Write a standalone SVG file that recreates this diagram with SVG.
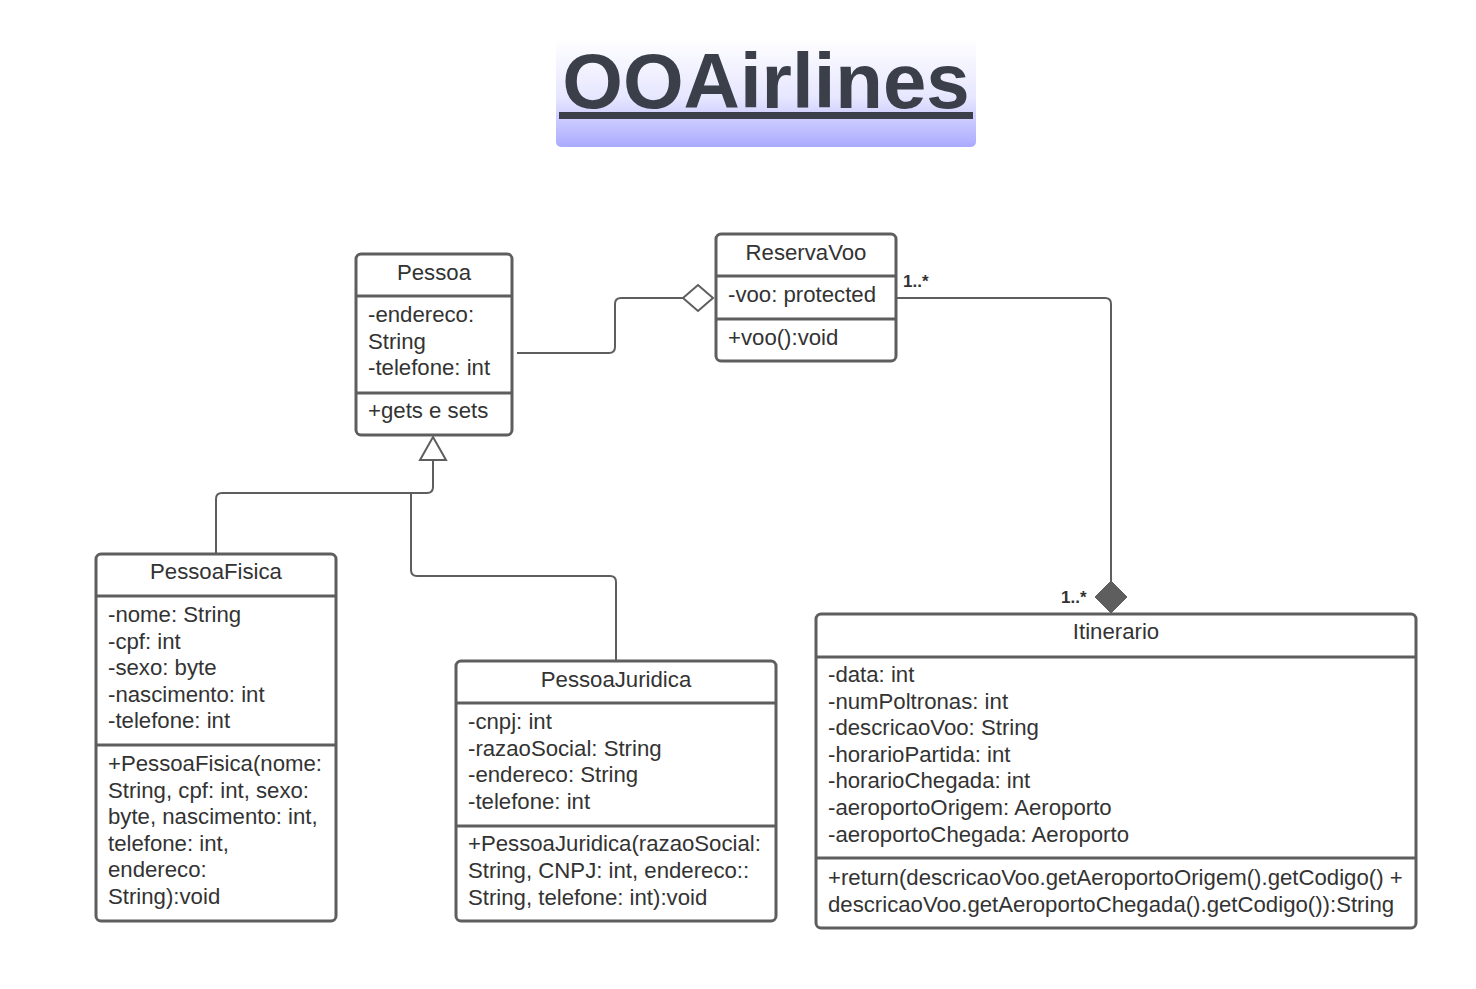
<svg xmlns="http://www.w3.org/2000/svg" width="1476" height="989" viewBox="0 0 1476 989">
<defs>
<linearGradient id="tg" x1="0" y1="0" x2="0" y2="1">
<stop offset="0" stop-color="#ffffff"/>
<stop offset="0.55" stop-color="#e6e6ff"/>
<stop offset="1" stop-color="#aaaaff"/>
</linearGradient>
<style>
.box{fill:#ffffff;stroke:#5e5e5e;stroke-width:3}
.sep{stroke:#5e5e5e;stroke-width:3}
.t{font-family:"Liberation Sans",Arial,sans-serif;font-size:22.2px;fill:#333333}
.c{text-anchor:middle}
.conn{fill:none;stroke:#5e5e5e;stroke-width:2}
.mult{font-family:"Liberation Sans",Arial,sans-serif;font-size:17px;font-weight:bold;fill:#333333}
</style>
</defs>
<rect width="1476" height="989" fill="#ffffff"/>
<g id="title">
<rect x="556" y="38" width="420" height="109" rx="5" fill="url(#tg)"/>
<text x="766" y="108" text-anchor="middle" font-family="Liberation Sans,Arial,sans-serif" font-weight="bold" font-size="78" fill="#3a3f4a">OOAirlines</text>
<rect x="559" y="112" width="414" height="7" fill="#3a3f4a"/>
</g>
<g id="connectors">
<path class="conn" d="M517 353 H609 Q615 353 615 347 V304 Q615 298 621 298 H683"/>
<polygon points="683,298 698,285 713,298 698,311" fill="#ffffff" stroke="#5e5e5e" stroke-width="2"/>
<path class="conn" d="M433 460 V487 Q433 493 427 493 H222 Q216 493 216 499 V554"/>
<path class="conn" d="M411 493 V570 Q411 576 417 576 H610 Q616 576 616 582 V661"/>
<polygon points="433,437 446,460 420,460" fill="#ffffff" stroke="#5e5e5e" stroke-width="2"/>
<path class="conn" d="M896 298 H1105 Q1111 298 1111 304 V582"/>
<polygon points="1111,581 1127,597 1111,613 1095,597" fill="#5e5e5e" stroke="#5e5e5e" stroke-width="1"/>
<text class="mult" x="903" y="287">1..*</text>
<text class="mult" x="1061" y="603">1..*</text>
</g>
<g id="Pessoa">
<rect class="box" x="356" y="254" width="156" height="181" rx="5"/>
<line class="sep" x1="356" y1="296" x2="512" y2="296"/>
<line class="sep" x1="356" y1="393" x2="512" y2="393"/>
<text class="t c" x="434" y="280">Pessoa</text>
<text class="t" x="368" y="322">-endereco:</text>
<text class="t" x="368" y="349">String</text>
<text class="t" x="368" y="375">-telefone: int</text>
<text class="t" x="368" y="418">+gets e sets</text>
</g>
<g id="ReservaVoo">
<rect class="box" x="716" y="234" width="180" height="127" rx="5"/>
<line class="sep" x1="716" y1="276" x2="896" y2="276"/>
<line class="sep" x1="716" y1="319" x2="896" y2="319"/>
<text class="t c" x="806" y="260">ReservaVoo</text>
<text class="t" x="728" y="302">-voo: protected</text>
<text class="t" x="728" y="345">+voo():void</text>
</g>
<g id="PessoaFisica">
<rect class="box" x="96" y="554" width="240" height="367" rx="5"/>
<line class="sep" x1="96" y1="596" x2="336" y2="596"/>
<line class="sep" x1="96" y1="745" x2="336" y2="745"/>
<text class="t c" x="216" y="579">PessoaFisica</text>
<text class="t" x="108" y="622">-nome: String</text>
<text class="t" x="108" y="649">-cpf: int</text>
<text class="t" x="108" y="675">-sexo: byte</text>
<text class="t" x="108" y="702">-nascimento: int</text>
<text class="t" x="108" y="728">-telefone: int</text>
<text class="t" x="108" y="771">+PessoaFisica(nome:</text>
<text class="t" x="108" y="798">String, cpf: int, sexo:</text>
<text class="t" x="108" y="824">byte, nascimento: int,</text>
<text class="t" x="108" y="851">telefone: int,</text>
<text class="t" x="108" y="877">endereco:</text>
<text class="t" x="108" y="904">String):void</text>
</g>
<g id="PessoaJuridica">
<rect class="box" x="456" y="661" width="320" height="260" rx="5"/>
<line class="sep" x1="456" y1="703" x2="776" y2="703"/>
<line class="sep" x1="456" y1="826" x2="776" y2="826"/>
<text class="t c" x="616" y="687">PessoaJuridica</text>
<text class="t" x="468" y="729">-cnpj: int</text>
<text class="t" x="468" y="756">-razaoSocial: String</text>
<text class="t" x="468" y="782">-endereco: String</text>
<text class="t" x="468" y="809">-telefone: int</text>
<text class="t" x="468" y="851">+PessoaJuridica(razaoSocial:</text>
<text class="t" x="468" y="878">String, CNPJ: int, endereco::</text>
<text class="t" x="468" y="905">String, telefone: int):void</text>
</g>
<g id="Itinerario">
<rect class="box" x="816" y="614" width="600" height="314" rx="5"/>
<line class="sep" x1="816" y1="657" x2="1416" y2="657"/>
<line class="sep" x1="816" y1="858" x2="1416" y2="858"/>
<text class="t c" x="1116" y="639">Itinerario</text>
<text class="t" x="828" y="682">-data: int</text>
<text class="t" x="828" y="709">-numPoltronas: int</text>
<text class="t" x="828" y="735">-descricaoVoo: String</text>
<text class="t" x="828" y="762">-horarioPartida: int</text>
<text class="t" x="828" y="788">-horarioChegada: int</text>
<text class="t" x="828" y="815">-aeroportoOrigem: Aeroporto</text>
<text class="t" x="828" y="842">-aeroportoChegada: Aeroporto</text>
<text class="t" x="828" y="885">+return(descricaoVoo.getAeroportoOrigem().getCodigo() +</text>
<text class="t" x="828" y="912">descricaoVoo.getAeroportoChegada().getCodigo()):String</text>
</g>
</svg>
